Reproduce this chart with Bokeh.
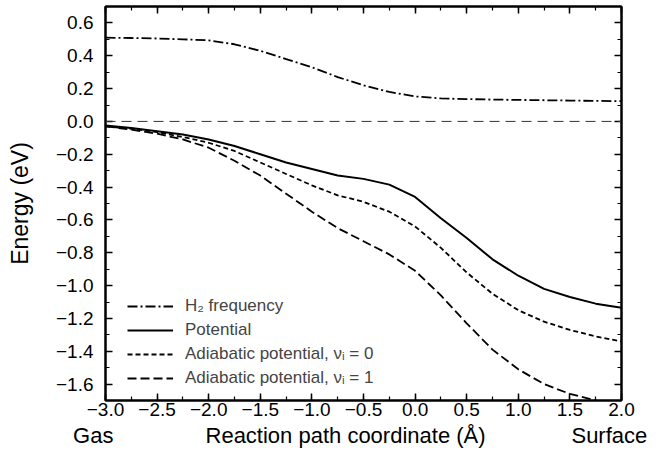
from bokeh.plotting import figure
from bokeh.models import (LinearAxis, SingleIntervalTicker, FixedTicker, CustomJSTickFormatter,
                          Legend, LegendItem, Span, Range1d)
from bokeh.embed import file_html
from bokeh.resources import INLINE

# ---- data ----
x_coord = [-3.0, -2.75, -2.5, -2.25, -2.0, -1.75, -1.5, -1.25, -1.0, -0.75, -0.5,
           -0.25, 0.0, 0.25, 0.5, 0.75, 1.0, 1.25, 1.5, 1.75, 2.0]
h2_frequency = [0.51, 0.508, 0.505, 0.50, 0.494, 0.47, 0.43, 0.38, 0.33, 0.27, 0.22,
                0.18, 0.152, 0.14, 0.136, 0.133, 0.131, 0.129, 0.127, 0.125, 0.123]
potential = [-0.025, -0.04, -0.06, -0.08, -0.11, -0.15, -0.20, -0.25, -0.29, -0.33, -0.35,
             -0.385, -0.46, -0.59, -0.71, -0.84, -0.94, -1.02, -1.07, -1.11, -1.135]
adiabatic_v0 = [-0.03, -0.045, -0.065, -0.095, -0.13, -0.18, -0.25, -0.32, -0.39, -0.45, -0.49,
                -0.55, -0.64, -0.77, -0.92, -1.05, -1.15, -1.22, -1.27, -1.31, -1.34]
adiabatic_v1 = [-0.03, -0.05, -0.075, -0.11, -0.16, -0.24, -0.33, -0.44, -0.55, -0.65, -0.73,
                -0.81, -0.91, -1.06, -1.23, -1.39, -1.51, -1.60, -1.66, -1.70, -1.74]

legend_labels = ["H\u2082 frequency", "Potential",
                 "Adiabatic potential, \u03bd\u1d62 = 0", "Adiabatic potential, \u03bd\u1d62 = 1"]
x_title = "Reaction path coordinate (\u00c5)"
y_title = "Energy (eV)"
left_end_label = "Gas"
right_end_label = "Surface"
# positions (data x) of the three texts on the bottom line
bottom_text_x = [-3.0, -0.674, 2.0]

FONT = "Liberation Sans"

p = figure(width=659, height=452, output_backend="svg", toolbar_location=None,
           x_range=Range1d(-3.0, 2.0), y_range=Range1d(-1.7, 0.7),
           x_axis_location=None, y_axis_location=None)
p.min_border_left = 105
p.min_border_right = 38
p.min_border_top = 6
p.min_border_bottom = 52
p.xgrid.visible = False
p.ygrid.visible = False
p.outline_line_color = "black"
p.outline_line_width = 2
p.background_fill_color = "white"
p.border_fill_color = "white"

fmt = CustomJSTickFormatter(code="""
var v = Math.round(tick*10)/10;
if (Math.abs(v) < 1e-9) { v = 0; }
return v.toFixed(1).replace('-', '\u2212');
""")
blank_fmt = CustomJSTickFormatter(code="return '';")

def make_axis(ticker, show_labels):
    ax = LinearAxis(ticker=ticker, formatter=fmt if show_labels else blank_fmt)
    ax.axis_line_color = "black"
    ax.axis_line_width = 2
    ax.major_tick_in = 7
    ax.major_tick_out = 0
    ax.minor_tick_in = 4
    ax.minor_tick_out = 0
    ax.major_tick_line_width = 1.5
    ax.minor_tick_line_width = 1.2
    ax.major_tick_line_color = "black"
    ax.minor_tick_line_color = "black"
    ax.major_label_text_font = FONT
    ax.major_label_text_font_size = "19px"
    ax.major_label_text_color = "black"
    if not show_labels:
        ax.major_label_standoff = 0
    return ax

xt = SingleIntervalTicker(interval=0.5, num_minor_ticks=2)
yt = SingleIntervalTicker(interval=0.2, num_minor_ticks=2)

xb = make_axis(xt, True)
xb.major_label_standoff = 2
p.add_layout(xb, "below")

# second row below: Gas / title / Surface
end_fmt = CustomJSTickFormatter(
    args=dict(a=left_end_label + "\u00a0\u00a0\u00a0\u00a0", b=x_title,
              c=right_end_label + "\u00a0\u00a0"),
    code="""
if (tick < -2.5) { return a; }
if (tick > 1.5) { return c; }
return b;
""")
xb2 = LinearAxis(ticker=FixedTicker(ticks=bottom_text_x, minor_ticks=[]), formatter=end_fmt)
xb2.axis_line_color = None
xb2.major_tick_line_color = None
xb2.minor_tick_line_color = None
xb2.major_tick_in = 0
xb2.major_tick_out = 0
xb2.major_label_standoff = 4
xb2.major_label_text_font = FONT
xb2.major_label_text_font_size = "22px"
xb2.major_label_text_color = "black"
p.add_layout(xb2, "below")

xa = make_axis(xt, False)
p.add_layout(xa, "above")

yl = make_axis(yt, True)
yl.major_label_standoff = 12
yl.axis_label = y_title
yl.axis_label_text_font = FONT
yl.axis_label_text_font_size = "23px"
yl.axis_label_text_font_style = "normal"
yl.axis_label_text_color = "black"
yl.axis_label_standoff = 20
p.add_layout(yl, "left")
yr = make_axis(yt, False)
p.add_layout(yr, "right")

p.add_layout(Span(location=0, dimension="width", line_color="#333333",
                  line_width=1, line_dash="10 6"))

r_h2 = p.line(x_coord, h2_frequency, line_color="black", line_width=1.8, line_dash="10 3 2 3")
r_pot = p.line(x_coord, potential, line_color="black", line_width=2)
r_v0 = p.line(x_coord, adiabatic_v0, line_color="black", line_width=1.8, line_dash="5 3")
r_v1 = p.line(x_coord, adiabatic_v1, line_color="black", line_width=1.8, line_dash="9 4")

legend = Legend(items=[LegendItem(label=legend_labels[0], renderers=[r_h2]),
                       LegendItem(label=legend_labels[1], renderers=[r_pot]),
                       LegendItem(label=legend_labels[2], renderers=[r_v0]),
                       LegendItem(label=legend_labels[3], renderers=[r_v1])],
                location=(22, 12), margin=0, padding=5, spacing=4,
                glyph_width=46, glyph_height=20, label_height=20, label_standoff=12,
                label_text_font=FONT, label_text_font_size="17px",
                border_line_color=None, background_fill_alpha=0)
p.add_layout(legend, "center")

open("out.html", "w").write(file_html(p, INLINE))
